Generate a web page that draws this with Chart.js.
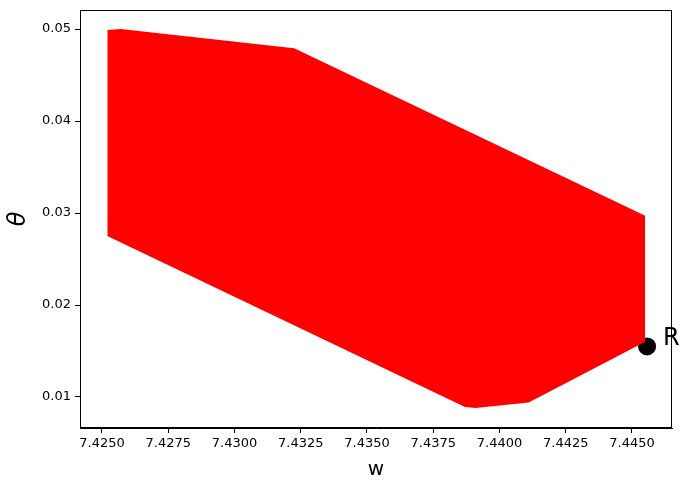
<!DOCTYPE html>
<html>
<head>
<meta charset="utf-8">
<script src="https://cdn.jsdelivr.net/npm/chart.js@4/dist/chart.umd.min.js"></script>
<style>
    html, body { margin: 0; padding: 0; background: #fff; }
    #wrap { width: 689px; height: 490px; }
</style>
</head>
<body>
<div id="wrap"><canvas id="myChart" width="689" height="490"></canvas></div>
<script>
// data

const upperW = [7.4252, 7.4257, 7.43225, 7.4455];
const upperTheta = [0.0499, 0.0500, 0.0479, 0.0297];

const lowerW = [7.4252, 7.4387, 7.4391, 7.4411, 7.4455];
const lowerTheta = [0.0275, 0.0089, 0.0088, 0.0094, 0.0160];

const pointW = [7.44557];
const pointTheta = [0.0155];
const pointLabel = 'R';

const xTicks = [7.4250, 7.4275, 7.4300, 7.4325, 7.4350, 7.4375, 7.4400, 7.4425, 7.4450];
const yTicks = [0.01, 0.02, 0.03, 0.04, 0.05];

const toPoints = (xs, ys) => xs.map((x, i) => ({ x: x, y: ys[i] }));

// frame round the plot area + R label

const framePlugin = {
    id: 'frame',
    afterDatasetsDraw(chart) {
        const { ctx, chartArea } = chart;
        ctx.save();
        ctx.strokeStyle = '#000';
        ctx.lineWidth = 1;
        ctx.strokeRect(chartArea.left + 0.5, chartArea.top + 0.5,
            chartArea.right - chartArea.left - 1, chartArea.bottom - chartArea.top - 1);

        const el = chart.getDatasetMeta(2).data[0];
        if (el) {
            ctx.fillStyle = '#000';
            ctx.font = '24px "DejaVu Sans"';
            ctx.textBaseline = 'middle';
            ctx.textAlign = 'left';
            ctx.fillText(pointLabel, el.x + 16, el.y - 8);
        }
        ctx.restore();
    }
};

const tickFont = { family: 'DejaVu Sans', size: 13 };

const ctx = document.getElementById('myChart').getContext('2d');

new Chart(ctx, {
    type: 'scatter',
    data: {
        datasets: [
            {
                label: 'lower',
                data: toPoints(lowerW, lowerTheta),
                showLine: true,
                borderWidth: 0,
                pointRadius: 0,
                fill: false
            },
            {
                label: 'upper',
                data: toPoints(upperW, upperTheta),
                showLine: true,
                borderWidth: 0,
                pointRadius: 0,
                backgroundColor: '#ff0000',
                fill: '-1'
            },
            {
                label: 'R',
                data: toPoints(pointW, pointTheta),
                pointRadius: 9,
                borderWidth: 0,
                backgroundColor: '#000',
                borderColor: '#000'
            }
        ]
    },
    options: {
        responsive: false,
        animation: false,
        layout: { padding: { left: 0, right: 17, top: 10, bottom: 0 } },
        plugins: {
            legend: { display: false },
            tooltip: { enabled: false }
        },
        scales: {
            x: {
                type: 'linear',
                min: 7.42417,
                max: 7.44651,
                afterBuildTicks: (scale) => { scale.ticks = xTicks.map(v => ({ value: v })); },
                afterFit: (scale) => {
                    scale.height = 62;
                    scale.paddingLeft = 0;
                    scale.paddingRight = 0;
                },
                ticks: {
                    color: '#000',
                    font: tickFont,
                    padding: 3,
                    maxRotation: 0,
                    autoSkip: false,
                    callback: (v) => Number(v).toFixed(4)
                },
                grid: { drawOnChartArea: false, tickLength: 5, color: '#000' },
                border: { color: '#000' },
                title: {
                    display: true,
                    text: 'w',
                    color: '#000',
                    font: { family: 'DejaVu Sans', size: 20 },
                    padding: { top: 0, bottom: 8 }
                }
            },
            y: {
                type: 'linear',
                min: 0.00663,
                max: 0.05207,
                afterBuildTicks: (scale) => { scale.ticks = yTicks.map(v => ({ value: v })); },
                afterFit: (scale) => {
                    scale.width = 80;
                    scale.paddingTop = 0;
                    scale.paddingBottom = 0;
                },
                ticks: {
                    color: '#000',
                    font: tickFont,
                    padding: 4,
                    autoSkip: false,
                    callback: (v) => Number(v).toFixed(2)
                },
                grid: { drawOnChartArea: false, tickLength: 5, color: '#000' },
                border: { color: '#000' },
                title: {
                    display: true,
                    text: 'θ',
                    color: '#000',
                    font: { family: 'DejaVu Sans', size: 24, style: 'italic' },
                    padding: { top: 4, bottom: 2 }
                }
            }
        }
    },
    plugins: [framePlugin]
});
</script>
</body>
</html>
